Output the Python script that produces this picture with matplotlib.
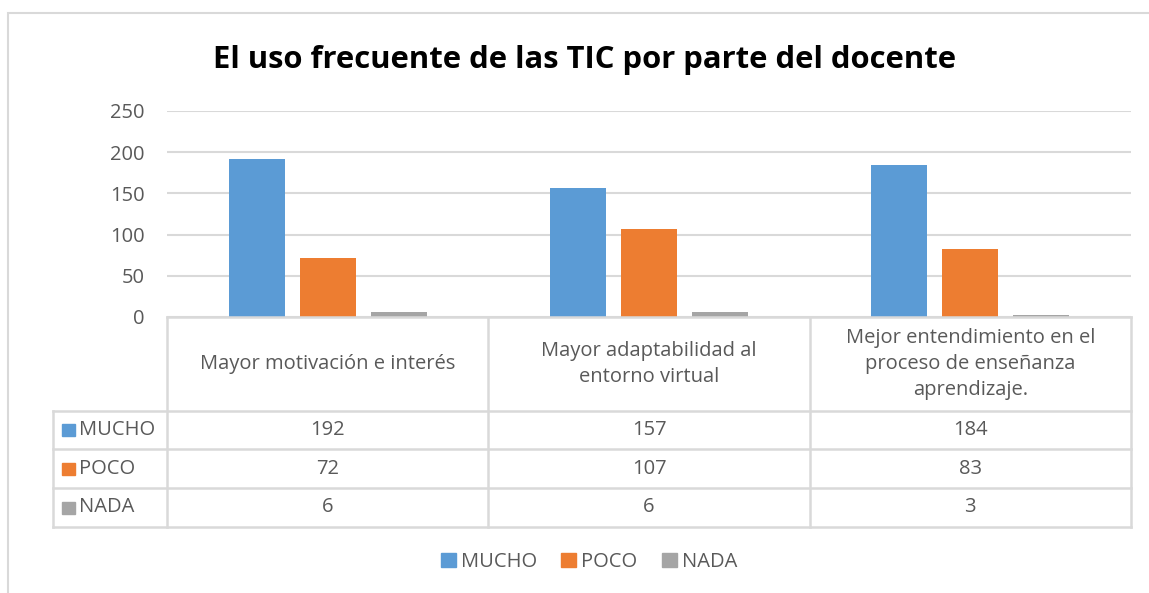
import matplotlib.pyplot as plt
import numpy as np
from matplotlib.lines import Line2D
from matplotlib.patches import Rectangle

categorias = ["Mayor motivación e interés",
              "Mayor adaptabilidad al\nentorno virtual",
              "Mejor entendimiento en el\nproceso de enseñanza\naprendizaje."]
series = ["MUCHO", "POCO", "NADA"]
mucho = [192, 157, 184]
poco = [72, 107, 83]
nada = [6, 6, 3]
colores = ["#5b9bd5", "#ed7d31", "#a5a5a5"]

W, H = 1149, 593
fig = plt.figure(figsize=(W / 100, H / 100), dpi=100)
plt.rcParams['font.family'] = ['Open Sans', 'DejaVu Sans']
gris = "#595959"
linea = "#d9d9d9"
fs = 14.5

def fx(px):
    return px / W

def fy(py):
    return 1 - py / H

# borde del grafico
fig.add_artist(Rectangle((fx(8), fy(700)), fx(1200), fy(13) - fy(700),
                         transform=fig.transFigure, fill=False,
                         edgecolor=linea, lw=1.5))

x0, x1, ytop, ybot = 167, 1131, 111, 317
ax = fig.add_axes([fx(x0), fy(ybot), fx(x1 - x0), fy(ytop) - fy(ybot)])
x = np.arange(len(categorias))
ancho = 0.174
for i, (nombre, vals) in enumerate(zip(series, [mucho, poco, nada])):
    ax.bar(x + (i - 1) * 0.221, vals, ancho, color=colores[i], zorder=3)
ax.set_xlim(-0.5, len(categorias) - 0.5)
ax.set_ylim(0, 250)
ax.set_yticks(range(0, 251, 50))
ax.yaxis.grid(True, color=linea, lw=1.5, zorder=0)
ax.set_xticks([])
for s in ax.spines.values():
    s.set_visible(False)
ax.tick_params(axis='y', length=0, labelsize=fs, labelcolor=gris, pad=16)

fig.text(0.509, fy(60), "El uso frecuente de las TIC por parte del docente",
         ha='center', va='center', fontsize=22.3, fontweight='bold', color='black')

# tabla de datos
col_w = (x1 - x0) / len(categorias)
cols = [x0 + col_w * k for k in range(len(categorias) + 1)]
filas = [411, 449, 488, 527]
legx = 53

def hline(y, xa, xb):
    fig.add_artist(Line2D([fx(xa), fx(xb)], [fy(y), fy(y)], color=linea, lw=1.8))

def vline(xv, ya, yb):
    fig.add_artist(Line2D([fx(xv), fx(xv)], [fy(ya), fy(yb)], color=linea, lw=1.8))

hline(ybot, x0, x1)
for y in filas:
    hline(y, legx, x1)
for c in cols:
    vline(c, ybot, filas[-1])
vline(legx, filas[0], filas[-1])

for k, cat in enumerate(categorias):
    fig.text(fx(cols[k] + col_w / 2), fy((ybot + filas[0]) / 2), cat,
             ha='center', va='center', fontsize=fs, color=gris, linespacing=1.4)

valores = [mucho, poco, nada]
for r, nombre in enumerate(series):
    yc = (filas[r] + filas[r + 1]) / 2
    fig.add_artist(Rectangle((fx(62), fy(yc + 6)), fx(13), fy(yc - 6) - fy(yc + 6),
                             transform=fig.transFigure, color=colores[r]))
    fig.text(fx(79), fy(yc), nombre, ha='left', va='center', fontsize=fs, color=gris)
    for k in range(len(categorias)):
        fig.text(fx(cols[k] + col_w / 2), fy(yc), str(valores[r][k]),
                 ha='center', va='center', fontsize=fs, color=gris)

handles = [Rectangle((0, 0), 1, 1, color=c) for c in colores]
fig.legend(handles, series, loc='center', bbox_to_anchor=(fx(589), fy(562)),
           ncol=3, frameon=False, fontsize=fs, handlelength=0.75, handleheight=0.75,
           handletextpad=0.25, columnspacing=1.2, labelcolor=gris)

fig.savefig("out.png", dpi=100, facecolor='white')
